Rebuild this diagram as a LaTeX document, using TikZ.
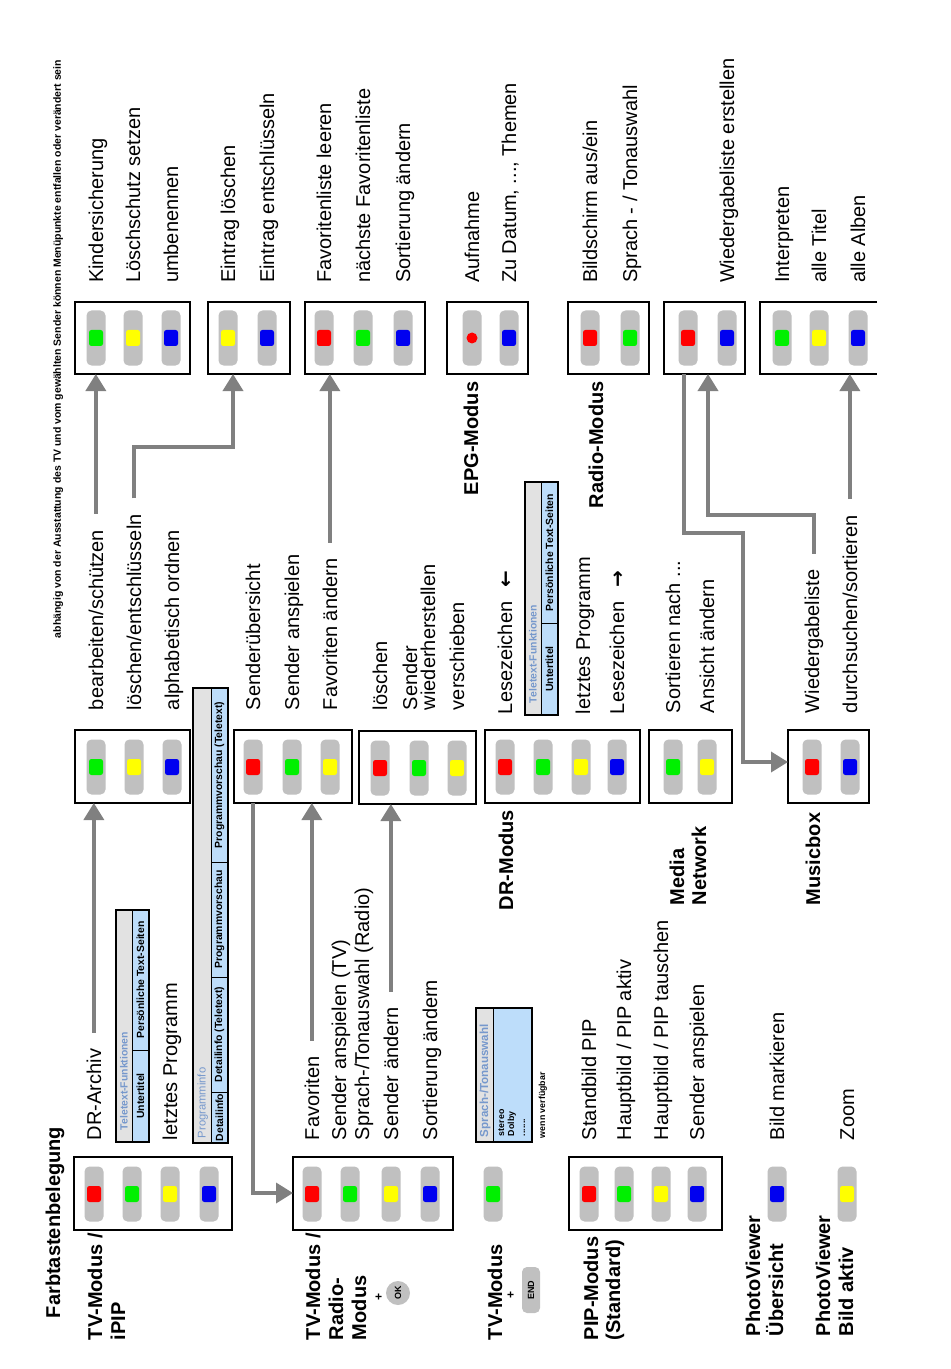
\documentclass[tikz,border=0pt]{standalone}
\usepackage{fontspec}
\setmainfont{Liberation Sans}
\newfontfamily\djv{DejaVu Sans}
\usetikzlibrary{arrows.meta,fit}
\definecolor{keyred}{RGB}{255,0,0}
\definecolor{keygreen}{RGB}{0,240,0}
\definecolor{keyyellow}{RGB}{255,255,0}
\definecolor{keyblue}{RGB}{0,0,240}
\definecolor{bargray}{RGB}{192,192,192}
\definecolor{arrgray}{RGB}{128,128,128}
\definecolor{hdrgray}{RGB}{226,226,226}
\definecolor{cellblue}{RGB}{189,221,250}
\definecolor{hdrblue}{RGB}{118,152,204}
\newcommand\btn[4]{\node[bar] (#1) at (#2,#3) {};\node[keysq,fill=#4] (#1k) at (#2,#3) {};}
\begin{document}
\begin{tikzpicture}[x=0.5pt,y=-0.5pt,
  txt/.style={rotate=90,anchor=base west,inner sep=0pt,outer sep=0pt,font=\fontsize{10}{12}\selectfont},
  btxt/.style={txt,font=\fontsize{10}{12}\selectfont\bfseries},
  bar/.style={fill=bargray,rounded corners=2.5pt,minimum width=9.5pt,minimum height=27.5pt,inner sep=0pt,outer sep=0pt},
  keysq/.style={rounded corners=1.2pt,minimum width=7pt,minimum height=8pt,inner sep=0pt},
  frame/.style={draw=black,line width=0.75pt,inner sep=0pt,outer sep=0pt},
  fline/.style={draw=black,line width=0.75pt},
  tline/.style={draw=black,line width=0.5pt},
  arr/.style={draw=arrgray,line width=1.8pt,-{Triangle[length=8.5pt,width=10pt]},shorten <=8pt},
  arrb/.style={draw=arrgray,line width=1.8pt,-{Triangle[length=8.5pt,width=10pt]}},
  hdr/.style={txt,font=\fontsize{5.2}{6}\selectfont\bfseries,text=hdrblue},
  cell/.style={rotate=90,inner sep=0pt,font=\fontsize{5.2}{6}\selectfont\bfseries},
  pcell/.style={rotate=90,inner sep=0pt,font=\fontsize{5.2}{6}\selectfont\bfseries},
  small/.style={txt,font=\fontsize{4.4}{5.3}\selectfont\bfseries},
  plus/.style={rotate=90,inner sep=0pt,font=\fontsize{6}{6}\selectfont\bfseries},
]
\fill[white] (0,0) rectangle (950,1369);
\useasboundingbox (0,0) rectangle (950,1369);

% ---------- headings ----------
\node[txt] (note) at (61,638) {\resizebox{289pt}{!}{\bfseries abhängig von der Ausstattung des TV und vom gewählten Sender können Menüpunkte entfallen oder verändert sein}};
\node[btxt] (title) at (60,1318) {Farbtastenbelegung};

% ---------- mode labels ----------
\node[btxt] (l1a) at (102,1340) {TV-Modus /};
\node[btxt] (l1b) at (125,1340) {iPIP};
\node[btxt] (l2a) at (320,1340) {TV-Modus /};
\node[btxt] (l2b) at (343,1340) {Radio-};
\node[btxt] (l2c) at (366,1340) {Modus};
\node[plus] (plus1) at (379,1297) {+};
\node[circle,fill=bargray,minimum size=12pt,inner sep=0pt,rotate=90,font=\fontsize{4.5}{5}\selectfont\bfseries] (ok) at (398,1293) {OK};
\node[btxt] (l3) at (502,1340) {TV-Modus};
\node[plus] (plus2) at (511,1295) {+};
\node[fill=bargray,rounded corners=2.5pt,rotate=90,minimum width=23pt,minimum height=9pt,inner sep=0pt,font=\fontsize{4.5}{5}\selectfont\bfseries] (endb) at (531,1290) {END};
\node[btxt] (l4a) at (598,1340) {PIP-Modus};
\node[btxt] (l4b) at (620,1340) {(Standard)};
\node[btxt] (l5a) at (760,1336) {PhotoViewer};
\node[btxt] (l5b) at (783,1336) {Übersicht};
\node[btxt] (l6a) at (830,1336) {PhotoViewer};
\node[btxt] (l6b) at (853,1336) {Bild aktiv};
\node[btxt] (l7) at (513,910) {DR-Modus};
\node[btxt] (l8a) at (684,905) {Media};
\node[btxt] (l8b) at (706,905) {Network};
\node[btxt] (l9) at (820,905) {Musicbox};
\node[btxt] (l10) at (478,495) {EPG-Modus};
\node[btxt] (l11) at (603,508) {Radio-Modus};

% ---------- frames ----------
\node[frame,fit={(74,1157)(232,1230)}] (b1) {};
\node[frame,fit={(293,1157)(453,1230)}] (b2) {};
\node[frame,fit={(569,1157)(722,1230)}] (pip) {};
\node[frame,fit={(75,730)(190,803)}] (b3) {};
\node[frame,fit={(234,730)(352,803)}] (b6) {};
\node[frame,fit={(359,731)(476,804)}] (b7) {};
\node[frame,fit={(485,730)(640,803)}] (dr) {};
\node[frame,fit={(649,730)(732,803)}] (media) {};
\node[frame,fit={(788,730)(869,803)}] (music) {};
\node[frame,fit={(75,302)(190,374)}] (kinder) {};
\node[frame,fit={(208,302)(290,374)}] (eintrag) {};
\node[frame,fit={(305,302)(425,374)}] (fav) {};
\node[frame,fit={(447,302)(528,374)}] (epg) {};
\node[frame,fit={(568,302)(649,374)}] (radio) {};
\node[frame,fit={(664,302)(745,374)}] (wdg) {};
\node[inner sep=0pt,outer sep=0pt,fit={(760,302)(877,374)}] (interp) {};
\draw[fline] (interp.north east) -- (interp.north west) -- (interp.south west) -- (interp.south east);

% ---------- buttons ----------
\btn{b1r}{94}{1194}{keyred}\btn{b1g}{132}{1194}{keygreen}\btn{b1y}{170}{1194}{keyyellow}\btn{b1b}{209}{1194}{keyblue}
\btn{b2r}{312}{1194}{keyred}\btn{b2g}{350}{1194}{keygreen}\btn{b2y}{391}{1194}{keyyellow}\btn{b2b}{430}{1194}{keyblue}
\btn{tvg}{493}{1194}{keygreen}
\btn{pr}{589}{1194}{keyred}\btn{pg}{624}{1194}{keygreen}\btn{py}{661}{1194}{keyyellow}\btn{pb}{697}{1194}{keyblue}
\btn{pvb}{777}{1194}{keyblue}\btn{pvy}{847}{1194}{keyyellow}
\btn{b3g}{96}{767}{keygreen}\btn{b3y}{134}{767}{keyyellow}\btn{b3b}{172}{767}{keyblue}
\btn{b6r}{253}{767}{keyred}\btn{b6g}{292}{767}{keygreen}\btn{b6y}{330}{767}{keyyellow}
\btn{b7r}{380}{768}{keyred}\btn{b7g}{419}{768}{keygreen}\btn{b7y}{457}{768}{keyyellow}
\btn{drr}{505}{767}{keyred}\btn{drg}{543}{767}{keygreen}\btn{dry}{581}{767}{keyyellow}\btn{drb}{617}{767}{keyblue}
\btn{mg}{673}{767}{keygreen}\btn{my}{707}{767}{keyyellow}
\btn{mur}{812}{767}{keyred}\btn{mub}{850}{767}{keyblue}
\btn{kg}{96}{338}{keygreen}\btn{ky}{133}{338}{keyyellow}\btn{kb}{171}{338}{keyblue}
\btn{ey}{228}{338}{keyyellow}\btn{eb}{267}{338}{keyblue}
\btn{fr}{324}{338}{keyred}\btn{fg}{363}{338}{keygreen}\btn{fb}{403}{338}{keyblue}
\node[bar] (epgr) at (472,338) {};
\node[circle,fill=keyred,minimum size=5.5pt,inner sep=0pt] (epgrk) at (472,338) {};
\btn{epgb}{509}{338}{keyblue}
\btn{rr}{590}{338}{keyred}\btn{rg}{630}{338}{keygreen}
\btn{wr}{688}{338}{keyred}\btn{wb}{727}{338}{keyblue}
\btn{ig}{782}{338}{keygreen}\btn{iy}{819}{338}{keyyellow}\btn{ib}{858}{338}{keyblue}

% ---------- texts, top row ----------
\node[txt] (t1) at (103,283) {Kindersicherung};
\node[txt] (t2) at (140,283) {Löschschutz setzen};
\node[txt] (t3) at (178,283) {umbenennen};
\node[txt] (t4) at (235,283) {Eintrag löschen};
\node[txt] (t5) at (274,283) {Eintrag entschlüsseln};
\node[txt] (t6) at (331,283) {Favoritenliste leeren};
\node[txt] (t7) at (370,283) {nächste Favoritenliste};
\node[txt] (t8) at (410,283) {Sortierung ändern};
\node[txt] (t9) at (479,283) {Aufnahme};
\node[txt] (t10) at (516,283) {Zu Datum, ..., Themen};
\node[txt] (t11) at (597,283) {Bildschirm aus/ein};
\node[txt] (t12) at (637,283) {Sprach - / Tonauswahl};
\node[txt] (t13) at (734,283) {Wiedergabeliste erstellen};
\node[txt] (t14) at (789,283) {Interpreten};
\node[txt] (t15) at (826,283) {alle Titel};
\node[txt] (t16) at (865,283) {alle Alben};

% ---------- texts, middle row ----------
\node[txt] (bearb) at (103,710) {bearbeiten/schützen};
\node[txt] (loesch) at (141,710) {löschen/entschlüsseln};
\node[txt] (alpha) at (179,710) {alphabetisch ordnen};
\node[txt] (sueb) at (260,710) {Senderübersicht};
\node[txt] (sansp) at (299,710) {Sender anspielen};
\node[txt] (favaend) at (337,710) {Favoriten ändern};
\node[txt] (loe) at (387,710) {löschen};
\node[txt] (swa) at (417,710) {Sender};
\node[txt] (swb) at (435,710) {wiederherstellen};
\node[txt] (versch) at (464,710) {verschieben};
\node[txt] (lz1) at (512,714) {Lesezeichen\hspace{7pt}{\djv\bfseries ←}};
\node[txt] (lprog2) at (590,714) {letztes Programm};
\node[txt] (lz2) at (624,714) {Lesezeichen\hspace{7pt}{\djv\bfseries →}};
\node[txt] (sort) at (680,713) {Sortieren nach ...};
\node[txt] (ansicht) at (714,713) {Ansicht ändern};
\node[txt] (wl) at (819,713) {Wiedergabeliste};
\node[txt] (durch) at (857,713) {durchsuchen/sortieren};

% ---------- texts, left part ----------
\node[txt] (drarch) at (101,1140) {DR-Archiv};
\node[txt] (lprog1) at (177,1140) {letztes Programm};
\node[txt] (favo) at (319,1140) {Favoriten};
\node[txt] (stv) at (346,1140) {Sender anspielen (TV)};
\node[txt] (srad) at (369,1140) {Sprach-/Tonauswahl (Radio)};
\node[txt] (saend) at (398,1140) {Sender ändern};
\node[txt] (sortaend) at (437,1140) {Sortierung ändern};
\node[txt] (p1) at (596,1140) {Standbild PIP};
\node[txt] (p2) at (631,1140) {Hauptbild / PIP aktiv};
\node[txt] (p3) at (668,1140) {Hauptbild / PIP tauschen};
\node[txt] (p4) at (704,1140) {Sender anspielen};
\node[txt] (pv1) at (784,1140) {Bild markieren};
\node[txt] (pv2) at (854,1140) {Zoom};

% ---------- Teletext table 1 ----------
\fill[hdrgray] (116,910) rectangle (132,1142);
\fill[cellblue] (132,910) rectangle (149,1142);
\draw[tline] (132,910) -- (132,1142);
\draw[tline] (132,1050) -- (149,1050);
\node[frame,fit={(116,910)(149,1142)}] (tt1) {};
\node[hdr] (tt1h) at (127.5,1130) {Teletext-Funktionen};
\node[cell] (tt1a) at (140.5,1096) {Untertitel};
\node[cell] (tt1b) at (140.5,980) {Persönliche Text-Seiten};

% ---------- Teletext table 2 ----------
\fill[hdrgray] (525,482) rectangle (541,715);
\fill[cellblue] (541,482) rectangle (558,715);
\draw[tline] (541,482) -- (541,715);
\draw[tline] (541,623) -- (558,623);
\node[frame,fit={(525,482)(558,715)}] (tt2) {};
\node[hdr] (tt2h) at (536.5,703) {Teletext-Funktionen};
\node[cell] (tt2a) at (549.5,669) {Untertitel};
\node[cell] (tt2b) at (549.5,552.5) {Persönliche Text-Seiten};

% ---------- Programminfo table ----------
\fill[hdrgray] (193,688) rectangle (211,1143);
\fill[cellblue] (211,688) rectangle (228,1143);
\draw[tline] (211,688) -- (211,1143);
\draw[tline] (211,1092) -- (228,1092);
\draw[tline] (211,977) -- (228,977);
\draw[tline] (211,862) -- (228,862);
\node[frame,fit={(193,688)(228,1143)}] (pinfo) {};
\node[hdr,font=\fontsize{5.6}{6}\selectfont] (pinfoh) at (205.5,1138) {Programminfo};
\node[pcell] (pi1) at (219.5,1117.5) {Detailinfo};
\node[pcell] (pi2) at (219.5,1034.5) {Detailinfo (Teletext)};
\node[pcell] (pi3) at (219.5,919.5) {Programmvorschau};
\node[pcell] (pi4) at (219.5,775) {Programmvorschau (Teletext)};

% ---------- Sprach-/Tonauswahl table ----------
\fill[hdrgray] (476,1008) rectangle (493,1142);
\fill[cellblue] (493,1008) rectangle (532,1142);
\draw[tline] (493,1008) -- (493,1142);
\node[frame,fit={(476,1008)(532,1142)}] (stbox) {};
\node[hdr,font=\fontsize{5.8}{6}\selectfont\bfseries] (sth) at (488,1137) {Sprach-/Tonauswahl};
\node[small] (st1) at (504,1136) {stereo};
\node[small] (st2) at (514,1136) {Dolby};
\node[small] (st3) at (525,1136) {.......};
\node[small] (wenn) at (545,1138) {wenn verfügbar};

% ---------- connectors ----------
\draw[arr] (drarch.east) -- (drarch.east |- b3.south);
\draw[arr] (bearb.east) -- (bearb.east |- kinder.south);
\coordinate (e1) at (233,447);
\draw[arr] (loesch.east) |- (e1) -- (e1 |- eintrag.south);
\draw[arr] (favaend.east) -- (favaend.east |- fav.south);
\coordinate (s1) at (253,1193);
\draw[arrb] (s1 |- b6.south) -- (s1) -- (s1 -| b2.west);
\draw[arr] (favo.east) -- (favo.east |- b6.south);
\draw[arr] (saend.east) -- (saend.east |- b7.south);
\coordinate (m1) at (684,533);
\coordinate (m2) at (743,762);
\draw[arrb] (m1 |- wdg.south) -- (m1) -| (m2) -- (m2 -| music.west);
\coordinate (m3) at (708,515);
\draw[arr] (wl.east) |- (m3) -- (m3 |- wdg.south);
\draw[arr] (durch.east) -- (durch.east |- interp.south);
\end{tikzpicture}
\end{document}
